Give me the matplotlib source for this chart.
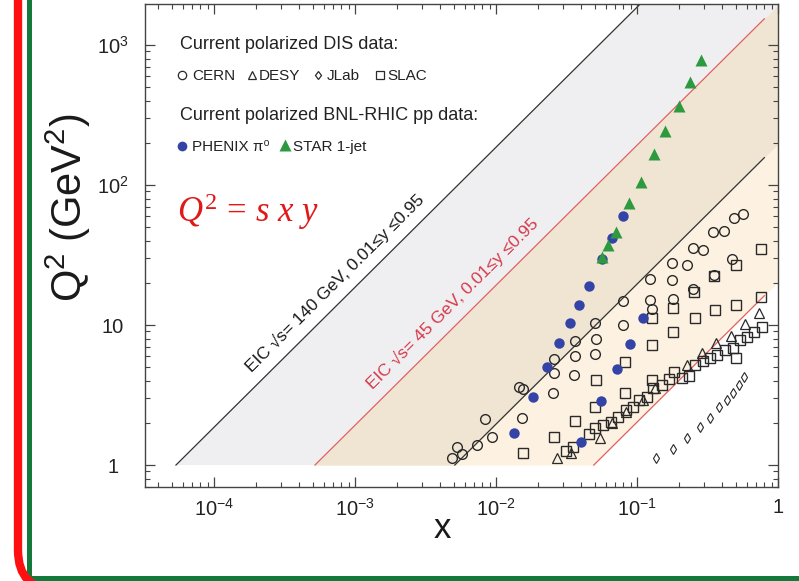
import math
import numpy as np
import matplotlib
matplotlib.use('Agg')
import matplotlib.pyplot as plt
from matplotlib.ticker import FuncFormatter, LogLocator, NullFormatter
from matplotlib.patches import FancyBboxPatch, Rectangle
from matplotlib.transforms import IdentityTransform

plt.rcParams['font.family'] = ['Liberation Sans', 'DejaVu Sans']
plt.rcParams['mathtext.fontset'] = 'custom'
plt.rcParams['mathtext.rm'] = 'Liberation Serif'
plt.rcParams['mathtext.it'] = 'Liberation Serif:italic'

# ---------------- data ----------------
cern_x = [0.565, 0.488, 0.414, 0.346, 0.294, 0.250, 0.227, 0.177, 0.472, 0.352,
          0.124, 0.177, 0.250, 0.0796, 0.124, 0.180, 0.128, 0.0796, 0.0504, 0.0363,
          0.0512, 0.0363, 0.0504, 0.0258, 0.0258, 0.0357, 0.01455, 0.01554, 0.02535,
          0.00836, 0.01528, 0.00937, 0.00733, 0.00528, 0.00574, 0.00487]
cern_q2 = [62.1, 58.1, 46.9, 46.2, 34.3, 35.5, 26.8, 27.7, 29.6, 22.8,
           21.3, 21.0, 18.1, 14.8, 15.1, 15.3, 13.0, 10.0, 10.3, 7.69,
           7.94, 6.01, 6.21, 5.72, 4.54, 4.39, 3.61, 3.49, 3.27,
           2.13, 2.17, 1.585, 1.39, 1.345, 1.198, 1.122]

slac_x = [0.758, 0.504, 0.352, 0.254, 0.758, 0.504, 0.357, 0.180, 0.258, 0.128,
          0.180, 0.128, 0.0822, 0.128, 0.0822, 0.0512, 0.0504, 0.0363, 0.0258, 0.01554,
          0.0313, 0.0352, 0.0457, 0.0504, 0.0574, 0.0654, 0.0733, 0.0836, 0.0937, 0.1033,
          0.1178, 0.1298, 0.1504, 0.1686, 0.1829, 0.2086, 0.2339, 0.258, 0.294, 0.3296,
          0.369, 0.421, 0.480, 0.504, 0.538, 0.603, 0.676, 0.770]
slac_q2 = [34.9, 26.8, 22.4, 17.2, 15.8, 13.9, 12.8, 13.2, 11.2, 11.2,
           8.91, 7.20, 5.44, 4.05, 3.27, 4.05, 2.60, 2.06, 1.585, 1.218,
           1.259, 1.345, 1.665, 1.84, 1.93, 2.03, 2.20, 2.47, 2.60, 2.91,
           3.06, 3.55, 3.73, 4.11, 4.62, 4.18, 4.32, 5.18, 5.53, 5.81,
           6.11, 6.63, 6.85, 5.81, 7.81, 8.21, 8.91, 9.67]

desy_x = [0.733, 0.583, 0.464, 0.363, 0.289, 0.2265, 0.134, 0.110, 0.0836, 0.0665,
          0.0547, 0.0340, 0.0271]
desy_q2 = [12.2, 10.2, 8.35, 7.44, 6.31, 5.18, 3.55, 2.91, 2.39, 2.0,
           1.56, 1.218, 1.122]

jlab_x = [0.136, 0.180, 0.2265, 0.280, 0.330, 0.382, 0.435, 0.480, 0.529, 0.574]
jlab_q2 = [1.122, 1.30, 1.56, 1.87, 2.17, 2.60, 2.91, 3.27, 3.73, 4.25]

phenix_x = [0.01342, 0.01829, 0.02301, 0.02799, 0.03349, 0.0388, 0.04567, 0.0565,
            0.0665, 0.0796, 0.0401, 0.0556, 0.0722, 0.0892, 0.110]
phenix_q2 = [1.69, 3.06, 5.01, 7.44, 10.3, 13.9, 19.0, 29.6, 41.8, 60.1,
             1.46, 2.86, 4.85, 7.31, 11.2]

star_x = [0.0565, 0.0623, 0.0710, 0.0878, 0.107, 0.132, 0.158, 0.199, 0.238, 0.284]
star_q2 = [30.6, 37.3, 46.2, 74.4, 105, 166, 243, 367, 544, 782]

# EIC kinematic limits: Q^2 = s x y
s_high = 140.0 ** 2
s_low = 45.0 ** 2
y_min, y_max = 0.01, 0.95
x_line_end = 0.8

xticks = [1e-4, 1e-3, 1e-2, 1e-1, 1]
yticks = [1, 10, 100, 1000]

# ---------------- figure ----------------
W, H = 799, 581
fig = plt.figure(figsize=(W / 100, H / 100), dpi=100)
fig.patch.set_facecolor('white')

def fx(px):
    return px / W

def fy(py):
    return 1 - py / H

ax = fig.add_axes([fx(145), fy(487), (778 - 145) / W, (487 - 4) / H])
ax.set_xscale('log')
ax.set_yscale('log')
ax.set_xlim(3.24e-5, 1.0)
ax.set_ylim(0.697, 1963)

# bands
xs = np.logspace(-5, 0, 2000)
def band(k_lo, k_hi, color, z):
    lo = np.maximum(1.0, k_lo * xs)
    hi = np.minimum(k_hi * xs, 1e5)
    m = hi > lo
    ax.fill_between(xs[m], lo[m], hi[m], color=color, lw=0, zorder=z)

band(s_high * y_min, s_high * y_max, '#efeff2', 0.2)
band(s_low * y_min, s_low * y_max, '#fdf2e1', 0.3)
band(s_high * y_min, s_low * y_max, '#f0e5d3', 0.4)

def kin_line(s, y, color, xend):
    x0 = 1.0 / (s * y)
    xx = np.array([x0, xend])
    ax.plot(xx, s * y * xx, color=color, lw=0.9, zorder=1)

kin_line(s_high, y_max, '#333333', 1.0)
kin_line(s_high, y_min, '#333333', x_line_end)
kin_line(s_low, y_max, '#e06060', x_line_end)
kin_line(s_low, y_min, '#e06060', x_line_end)

# data
ec = '#2a2a2a'
ax.plot(cern_x, cern_q2, 'o', ms=7, mfc='none', mec=ec, mew=1.0, zorder=3)
ax.plot(slac_x, slac_q2, 's', ms=6.5, mfc='none', mec=ec, mew=1.0, zorder=3)
ax.plot(desy_x, desy_q2, '^', ms=6.5, mfc='none', mec=ec, mew=0.9, zorder=3)
ax.plot(jlab_x, jlab_q2, 'd', ms=5, mfc='none', mec=ec, mew=0.8, zorder=3)
ax.plot(phenix_x, phenix_q2, 'o', ms=7.5, color='#3444a6', mec='none', zorder=4)
ax.plot(star_x, star_q2, '^', ms=8.5, color='#2e9a40', mec='none', zorder=5)

# ticks
def fmt(v, pos):
    e = int(round(math.log10(v)))
    if e == 0:
        return '1'
    if e == 1:
        return '10'
    return r'$\mathregular{10^{%d}}$' % e

for axis, ticks in ((ax.xaxis, xticks), (ax.yaxis, yticks)):
    axis.set_major_locator(matplotlib.ticker.FixedLocator(ticks))
    axis.set_major_formatter(FuncFormatter(fmt))
    axis.set_minor_locator(LogLocator(base=10, subs=np.arange(2, 10), numticks=20))
    axis.set_minor_formatter(NullFormatter())

ax.tick_params(which='both', direction='in', top=True, right=True, color='#444444',
               labelsize=14.5, labelcolor='#222222')
ax.tick_params(which='major', length=7, width=0.9)
ax.tick_params(which='minor', length=3.5, width=0.8)
ax.tick_params(axis='x', pad=8)
ax.tick_params(axis='y', pad=23)
for t in ax.yaxis.get_major_ticks():
    t.label1.set_horizontalalignment('center')
for sp in ax.spines.values():
    sp.set_color('#444444')
    sp.set_linewidth(1.0)

# axis labels
fig.text(fx(68), fy(208), r'$\mathregular{Q^2\ (GeV^2)}$', rotation=90,
         ha='center', va='center', fontsize=30, color='#1a1a1a')
fig.text(fx(442), fy(528), 'x', ha='center', va='center', fontsize=25, color='#1a1a1a')

# formula
fig.text(fx(177), fy(222), r'$Q^2\,\mathregular{=}\,s\ x\ y$', ha='left', va='baseline',
         fontsize=25, color='#e01818', family='Liberation Serif')

# rotated line labels
p1 = ax.transData.transform((1e-3, 1.0))
p2 = ax.transData.transform((1e-1, 100.0))
ang = math.degrees(math.atan2(p2[1] - p1[1], p2[0] - p1[0]))

xa = 2.14e-4
ax.annotate('EIC \u221as= 140 GeV, 0.01\u2264y \u22640.95', xy=(xa, s_high * y_max * xa),
            xytext=(-6.1, 6.1), textcoords='offset points', rotation=ang,
            rotation_mode='anchor', ha='left', va='baseline', fontsize=12.5,
            color='#1a1a1a', zorder=6)
xb = 1.545e-3
ax.annotate('EIC \u221as= 45 GeV, 0.01\u2264y \u22640.95', xy=(xb, s_low * y_max * xb),
            xytext=(-6.1, 6.1), textcoords='offset points', rotation=ang,
            rotation_mode='anchor', ha='left', va='baseline', fontsize=12.5,
            color='#d63a4a', zorder=6)

# in-plot legend
tc = '#222222'
fig.text(fx(180), fy(49), 'Current polarized DIS data:', fontsize=13, color=tc, va='baseline')
fig.text(fx(180), fy(120), 'Current polarized BNL-RHIC pp data:', fontsize=13, color=tc, va='baseline')

leg2 = [('o', 182, 'CERN', 192, 6), ('^', 252, 'DESY', 259, 6),
        ('d', 318, 'JLab', 327, 4.5), ('s', 380, 'SLAC', 387, 5.5)]
for mk, mx, lab, lx, ms in leg2:
    fig.lines.append(plt.Line2D([fx(mx)], [fy(75)], marker=mk, ms=ms, mfc='none',
                                mec=ec, mew=0.9, transform=fig.transFigure))
    fig.text(fx(lx), fy(80), lab, fontsize=11, color=tc, va='baseline')

fig.lines.append(plt.Line2D([fx(182)], [fy(146)], marker='o', ms=7, color='#3444a6',
                            mec='none', transform=fig.transFigure))
fig.text(fx(192), fy(151), 'PHENIX \u03c0\u2070', fontsize=11, color=tc, va='baseline')
fig.lines.append(plt.Line2D([fx(285)], [fy(145)], marker='^', ms=8, color='#2e9a40',
                            mec='none', transform=fig.transFigure))
fig.text(fx(293), fy(151), 'STAR 1-jet', fontsize=11, color=tc, va='baseline')

# decorative frame
green = Rectangle((29, H - 577.5), 2000, 2000, fill=False, ec='#137a3c', lw=3.6,
                  transform=IdentityTransform())
green.set_clip_on(False)
fig.add_artist(green)
red = FancyBboxPatch((18, H - 590), 2000, 2000,
                     boxstyle='round,pad=0,rounding_size=40', fill=False,
                     ec='#ff1010', lw=6, transform=IdentityTransform())
red.set_clip_on(False)
fig.add_artist(red)

fig.savefig('out.png', dpi=100)
